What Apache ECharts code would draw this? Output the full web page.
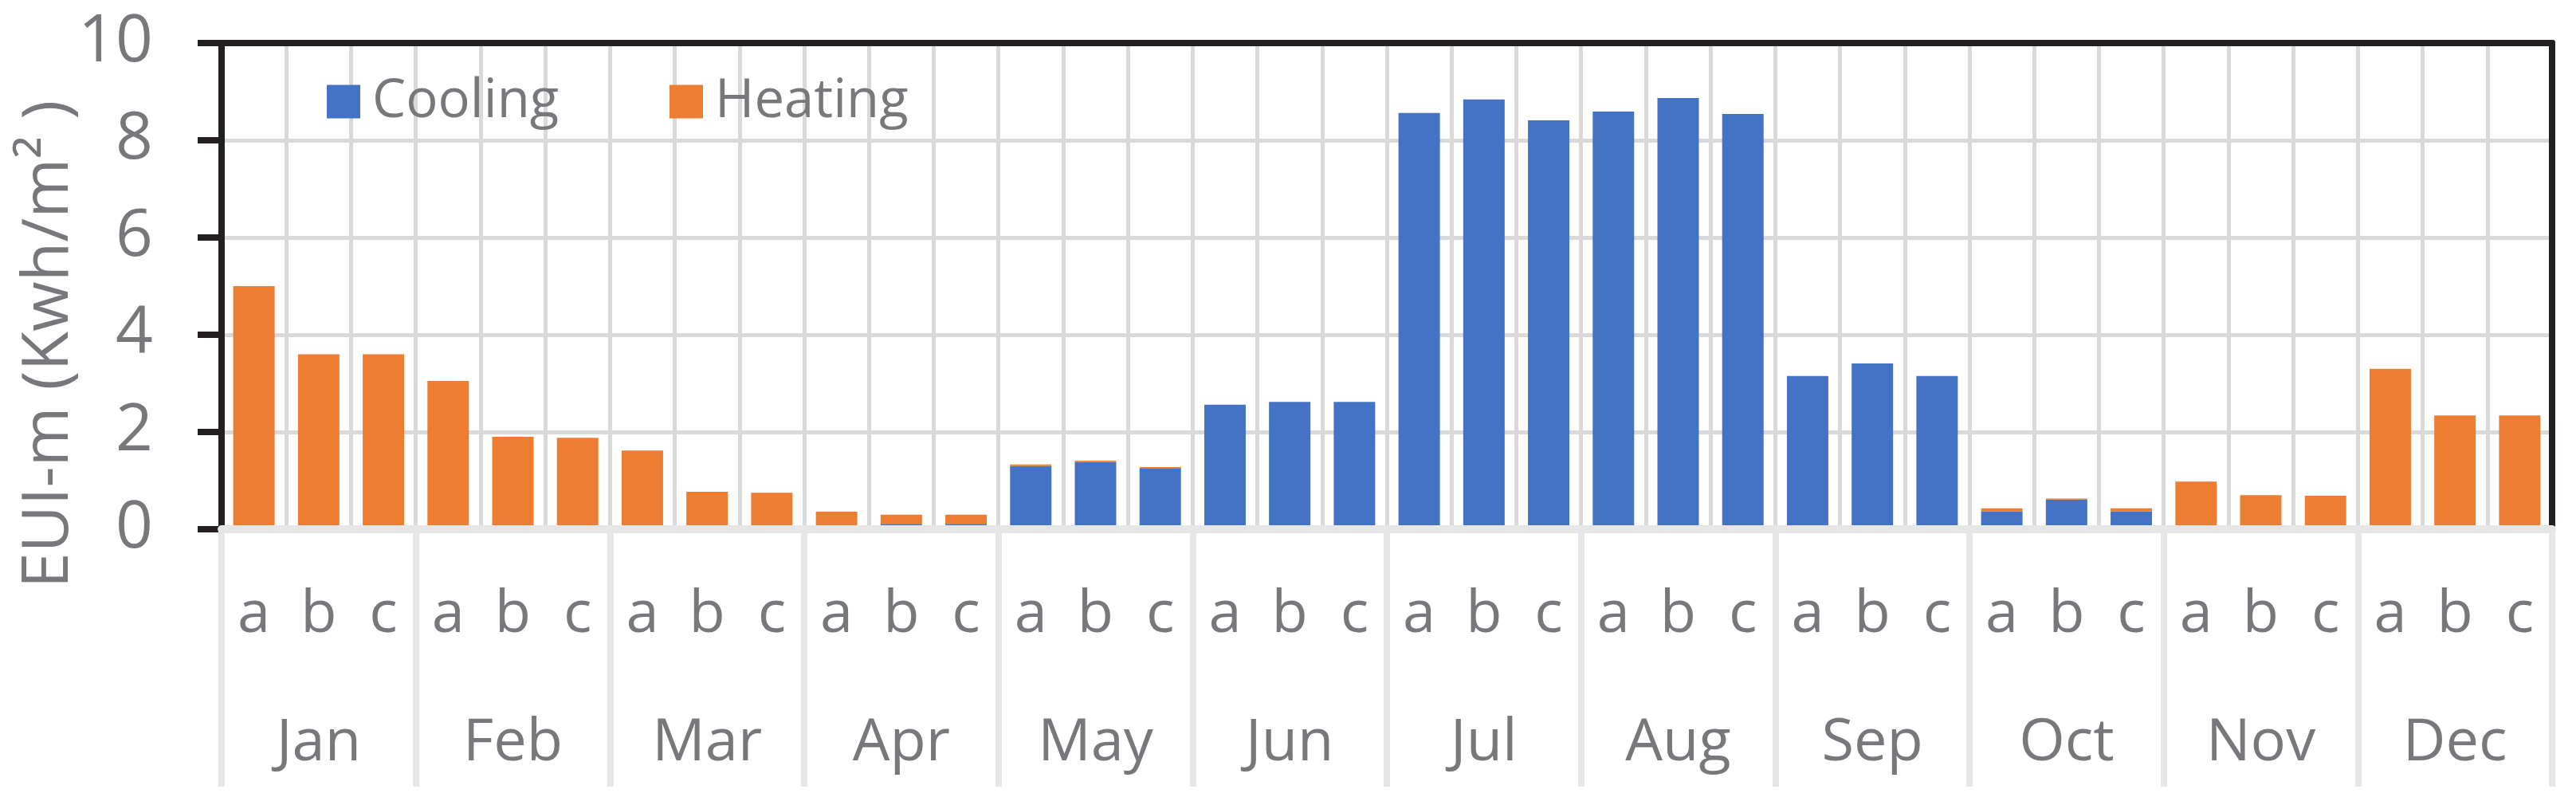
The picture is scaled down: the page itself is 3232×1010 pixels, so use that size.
<!DOCTYPE html>
<html>
<head>
<meta charset="utf-8">
<script src="https://cdn.jsdelivr.net/npm/echarts@6/dist/echarts.min.js"></script>
<style>
html,body{margin:0;padding:0;background:#fff;}
#chart{width:3232px;height:1010px;}
</style>
</head>
<body>
<div id="chart"></div>
<script>
// ---- data ----
var months = ['Jan','Feb','Mar','Apr','May','Jun','Jul','Aug','Sep','Oct','Nov','Dec'];
var subLabels = ['a','b','c'];
var cooling = [
  0, 0, 0,
  0, 0, 0,
  0, 0, 0,
  0, 0.11, 0.11,
  1.30, 1.38, 1.26,
  2.56, 2.62, 2.62,
  8.56, 8.84, 8.41,
  8.59, 8.87, 8.54,
  3.15, 3.41, 3.15,
  0.37, 0.61, 0.37,
  0, 0, 0,
  0, 0, 0
];
var heating = [
  5.00, 3.60, 3.60,
  3.05, 1.90, 1.88,
  1.62, 0.77, 0.75,
  0.36, 0.19, 0.19,
  0.03, 0.03, 0.02,
  0, 0, 0,
  0, 0, 0,
  0, 0, 0,
  0, 0, 0,
  0.06, 0.02, 0.06,
  0.98, 0.70, 0.69,
  3.30, 2.34, 2.34
];
var yMin = 0, yMax = 10, yStep = 2;
var yTitle = 'EUI-m (Kwh/m\u00B2 )';

// ---- build ----
var categories = [];
months.forEach(function (m) { subLabels.forEach(function (s) { categories.push(m + '|' + s); }); });

var FONT = '"Open Sans", "Noto Sans", sans-serif';
var TXT = '#77787b';
var BLACK = '#231f20';
var GRID = '#d9d9d9';
var AXG = '#e6e6e6';

var chart = echarts.init(document.getElementById('chart'), null, {renderer: 'canvas'});
var legendCommon = {
  itemWidth: 42, itemHeight: 42, icon: 'rect', top: 94, padding: 0,
  textStyle: {fontFamily: FONT, fontSize: 67, color: TXT, padding: [0, 0, 0, 10], lineHeight: 42}
};
var option = {
  animation: false,
  backgroundColor: '#ffffff',
  grid: {left: 278, right: 30, top: 54, bottom: 346, containLabel: false},
  legend: [
    Object.assign({data: ['Cooling'], left: 410}, legendCommon),
    Object.assign({data: ['Heating'], left: 840}, legendCommon)
  ],
  graphic: [{
    type: 'text', x: 62, y: 432, rotation: Math.PI / 2,
    style: {text: yTitle, fontFamily: FONT, fontSize: 81, fill: TXT, align: 'center', verticalAlign: 'middle'}
  }],
  xAxis: [
    {
      type: 'category', data: categories, position: 'bottom', z: 0,
      axisLine: {show: false}, axisTick: {show: false},
      splitLine: {show: true, interval: 0, lineStyle: {color: GRID, width: 5}},
      axisLabel: {interval: 0, margin: 68, fontFamily: FONT, fontSize: 74, lineHeight: 80, color: TXT,
        formatter: function (v) { return v.split('|')[1]; }}
    },
    {
      type: 'category', data: months, position: 'bottom', z: 3,
      axisLine: {show: true, lineStyle: {color: AXG, width: 10}},
      axisTick: {show: true, interval: 0, length: 323, lineStyle: {color: AXG, width: 8}},
      splitLine: {show: false},
      axisLabel: {interval: 0, margin: 229, fontFamily: FONT, fontSize: 74, lineHeight: 80, color: TXT}
    },
    {
      type: 'category', data: categories, position: 'top', z: 3,
      axisLine: {show: true, onZero: false, lineStyle: {color: BLACK, width: 8}},
      axisTick: {show: false}, axisLabel: {show: false}, splitLine: {show: false}
    }
  ],
  yAxis: [
    {
      type: 'value', min: yMin, max: yMax, interval: yStep, position: 'left', z: 1,
      axisLine: {show: true, onZero: false, lineStyle: {color: BLACK, width: 8}},
      axisTick: {show: true, length: 30, lineStyle: {color: BLACK, width: 8}},
      axisLabel: {margin: 86, fontFamily: FONT, fontSize: 82, color: TXT},
      splitLine: {show: true, lineStyle: {color: GRID, width: 5}}
    },
    {
      type: 'value', min: yMin, max: yMax, interval: yStep, position: 'right', z: 3,
      axisLine: {show: true, onZero: false, lineStyle: {color: BLACK, width: 8}},
      axisTick: {show: false}, axisLabel: {show: false}, splitLine: {show: false}
    }
  ],
  series: [
    {name: 'Cooling', type: 'bar', stack: 'total', xAxisIndex: 0, yAxisIndex: 0, data: cooling,
      barWidth: '64%', itemStyle: {color: '#4472c4'}},
    {name: 'Heating', type: 'bar', stack: 'total', xAxisIndex: 0, yAxisIndex: 0, data: heating,
      barWidth: '64%', itemStyle: {color: '#ed7d31'}}
  ]
};
chart.setOption(option);
</script>
</body>
</html>
